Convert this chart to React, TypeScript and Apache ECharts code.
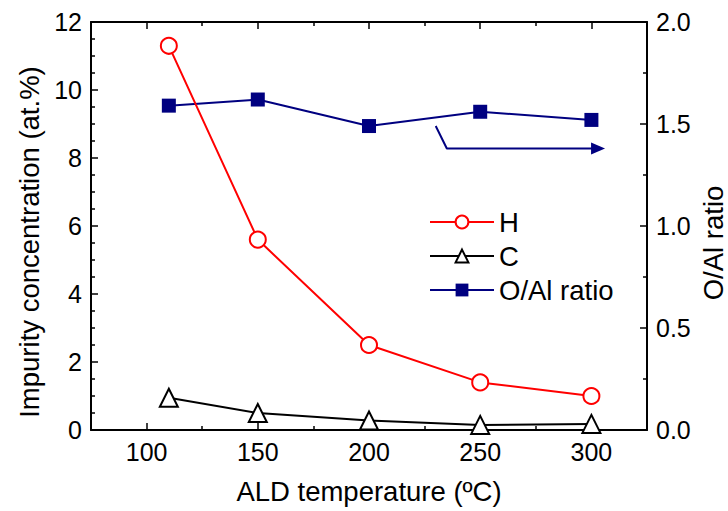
import React, { useEffect, useRef } from "react";
import * as echarts from "echarts";

const temperatures = [110, 150, 200, 250, 300];
const hValues = [11.3, 5.6, 2.5, 1.4, 1.0];
const cValues = [0.95, 0.5, 0.28, 0.15, 0.18];
const oAlRatio = [1.59, 1.62, 1.49, 1.56, 1.52];
const arrowPath = [
  [230, 1.49],
  [235, 1.38],
  [303, 1.38],
];
const xMajorTicks = [100, 150, 200, 250, 300];
const xMinorTicks = [125, 175, 225, 275];

const FONT = "'Liberation Sans', Arial, sans-serif";

export default function App() {
  const ref = useRef<HTMLDivElement>(null);
  useEffect(() => {
    if (!ref.current) return;
    const chart = echarts.init(ref.current, null, { renderer: "svg" });
    const zip = (ys: number[]) => temperatures.map((t, i) => [t, ys[i]]);
    const axisLine = { show: true, lineStyle: { color: "#000", width: 2 } };
    const tickStyle = { color: "#000", width: 1.5 };
    const xBase = {
      type: "value",
      min: 75,
      max: 325,
      splitLine: { show: false },
    };
    const arrowData = arrowPath.map((p, i) =>
      i === arrowPath.length - 1
        ? { value: p, symbol: "triangle", symbolSize: [12, 14], symbolRotate: -90 }
        : { value: p, symbol: "none" }
    );
    chart.setOption({
      animation: false,
      backgroundColor: "#fff",
      textStyle: { fontFamily: FONT },
      grid: { left: 91, top: 22, right: 81, bottom: 81, containLabel: false, outerBoundsMode: "none" },
      legend: {
        data: ["H", "C", "O/Al ratio"],
        orient: "vertical",
        left: 424,
        top: 203,
        itemWidth: 64,
        itemHeight: 16,
        itemGap: 6,
        textStyle: { fontSize: 27.5, color: "#000", fontFamily: FONT, lineHeight: 27.5 },
      },
      graphic: [
        {
          type: "text",
          x: 713,
          y: 243,
          rotation: Math.PI / 2,
          style: {
            text: "O/Al ratio",
            fontSize: 27.5,
            fontFamily: FONT,
            fill: "#000",
            align: "center",
            verticalAlign: "middle",
          },
        },
      ],
      xAxis: [
        {
          ...xBase,
          position: "bottom",
          axisLine,
          axisTick: { inside: true, length: 7, lineStyle: tickStyle, customValues: xMajorTicks },
          axisLabel: {
            customValues: xMajorTicks,
            fontSize: 25,
            color: "#000",
            fontFamily: FONT,
            margin: 9,
          },
          name: "ALD temperature (ºC)",
          nameLocation: "middle",
          nameGap: 47,
          nameTextStyle: { fontSize: 27.5, color: "#000", fontFamily: FONT },
        },
        {
          ...xBase,
          position: "bottom",
          axisLine: { show: false },
          axisTick: { inside: true, length: 4, lineStyle: tickStyle, customValues: xMinorTicks },
          axisLabel: { show: false },
        },
        {
          ...xBase,
          position: "top",
          axisLine,
          axisTick: { inside: true, length: 7, lineStyle: tickStyle, customValues: xMajorTicks },
          axisLabel: { show: false },
        },
        {
          ...xBase,
          position: "top",
          axisLine: { show: false },
          axisTick: { inside: true, length: 4, lineStyle: tickStyle, customValues: xMinorTicks },
          axisLabel: { show: false },
        },
      ],
      yAxis: [
        {
          type: "value",
          position: "left",
          min: 0,
          max: 12,
          interval: 2,
          axisLine,
          axisTick: { inside: true, length: 7, lineStyle: tickStyle },
          minorTick: { show: true, splitNumber: 4, length: 4, lineStyle: tickStyle },
          axisLabel: { fontSize: 25, color: "#000", fontFamily: FONT, margin: 9 },
          splitLine: { show: false },
          name: "Impurity concentration (at.%)",
          nameLocation: "middle",
          nameGap: 43,
          nameTextStyle: {
            fontSize: 27.5,
            color: "#000",
            fontFamily: FONT,
            padding: [0, 32, 0, 0],
          },
        },
        {
          type: "value",
          position: "right",
          min: 0,
          max: 2,
          interval: 0.5,
          axisLine,
          axisTick: { inside: true, length: 7, lineStyle: tickStyle },
          minorTick: { show: true, splitNumber: 2, length: 4, lineStyle: tickStyle },
          axisLabel: {
            fontSize: 25,
            color: "#000",
            fontFamily: FONT,
            margin: 9,
            formatter: (v: number) => v.toFixed(1),
          },
          splitLine: { show: false },
        },
      ],
      series: [
        {
          name: "O/Al ratio",
          type: "line",
          yAxisIndex: 1,
          data: zip(oAlRatio),
          symbol: "rect",
          symbolSize: 14,
          itemStyle: { color: "#000080" },
          lineStyle: { color: "#000080", width: 2 },
        },
        {
          name: "arrow",
          type: "line",
          yAxisIndex: 1,
          data: arrowData,
          showSymbol: true,
          symbol: "none",
          itemStyle: { color: "#000080" },
          lineStyle: { color: "#000080", width: 2 },
          silent: true,
        },
        {
          name: "C",
          type: "line",
          data: zip(cValues),
          symbol: "emptyTriangle",
          symbolSize: 18,
          itemStyle: { color: "#000", borderWidth: 2 },
          lineStyle: { color: "#000", width: 2 },
        },
        {
          name: "H",
          type: "line",
          data: zip(hValues),
          symbol: "emptyCircle",
          symbolSize: 16,
          itemStyle: { color: "#ff0000", borderWidth: 2 },
          lineStyle: { color: "#ff0000", width: 2 },
        },
      ],
    });
    return () => chart.dispose();
  }, []);
  return (
    <div
      ref={ref}
      style={{ position: "fixed", left: 0, top: 0, width: 728, height: 511, background: "#fff" }}
    />
  );
}
